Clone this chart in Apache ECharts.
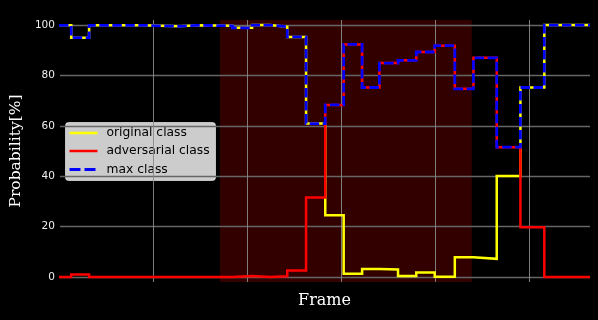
<!DOCTYPE html>
<html>
<head>
<meta charset="utf-8">
<script src="https://cdn.jsdelivr.net/npm/echarts@6/dist/echarts.min.js"></script>
<style>html,body{margin:0;padding:0;background:#000;}#c{width:598px;height:320px;}</style>
</head>
<body>
<div id="c"></div>
<script>
// step boundaries (frame units), value holds from edge[i] to edge[i+1]
var frameEdges = [0, 0.65, 1.6, 4.45, 6.4, 7.35, 9.23, 10.27, 11.22, 12.14, 13.14, 14.16, 15.14, 16.12, 17.04, 18.03, 19.0, 19.98, 21.05, 22.04, 23.28, 24.54, 25.81];
var frameEnd = 28.24;
var maxClass = [99.9, 95.0, 99.9, 99.5, 99.9, 99.7, 98.9, 100, 99.3, 95.3, 60.9, 68.3, 92.3, 75.2, 84.9, 86.0, 89.3, 91.8, 74.7, 87.0, 51.5, 75.2, 100];
var originalClass = [99.9, 95.0, 99.9, 99.5, 99.9, 99.7, 98.9, 100, 99.3, 95.3, 60.9, 24.5, 1.3, 3.2, 3.0, 0.4, 1.8, 0.1, 7.8, 7.2, 40.1, 75.2, 100];
var adversarialClass = [0, 1.0, 0, 0, 0, 0, 0.4, 0, 0.3, 2.6, 31.5, 68.3, 92.3, 75.2, 84.9, 86.0, 89.3, 91.8, 74.7, 87.0, 51.5, 19.7, 0];
var attackWindow = [8.56, 21.95];
var yTicks = [0, 20, 40, 60, 80, 100];
var legendNames = ['original class', 'adversarial class', 'max class'];

function steps(vals) {
  var d = frameEdges.map(function (x, i) { return [x, vals[i]]; });
  d.push([frameEnd, vals[vals.length - 1]]);
  return d;
}

var chart = echarts.init(document.getElementById('c'), null, {renderer: 'canvas'});
var lineBase = {type: 'line', step: 'end', showSymbol: false, symbol: 'none', animation: false, xAxisIndex: 0, yAxisIndex: 0};

chart.setOption({
  backgroundColor: '#000000',
  animation: false,
  grid: [
    {left: 59, width: 531, top: 20, height: 262},
    {left: 59, width: 531, top: 25.04, height: 251.92}
  ],
  xAxis: [
    {type: 'value', gridIndex: 0, min: 0, max: frameEnd, interval: 5, z: 1.5,
     axisLine: {show: false}, axisTick: {show: false}, axisLabel: {show: false},
     splitLine: {show: true, showMinLine: false, showMaxLine: false, lineStyle: {color: '#8a8a8a', width: 0.9}},
     name: 'Frame', nameLocation: 'middle', nameGap: 11,
     nameTextStyle: {color: '#ffffff', fontFamily: 'DejaVu Serif', fontSize: 16}},
    {type: 'value', gridIndex: 1, min: 0, max: frameEnd, show: false}
  ],
  yAxis: [
    {type: 'value', gridIndex: 0, min: -2, max: 102,
     axisLine: {show: false}, axisTick: {show: false}, axisLabel: {show: false}, splitLine: {show: false}},
    {type: 'value', gridIndex: 1, min: yTicks[0], max: yTicks[yTicks.length - 1], interval: 20, z: 1.5,
     axisLine: {show: false}, axisTick: {show: false},
     axisLabel: {color: '#eeeeee', fontFamily: 'DejaVu Sans', fontSize: 10.5, margin: 5},
     splitLine: {show: true, lineStyle: {color: '#666666', width: 1.3}},
     name: 'Probability[%]', nameLocation: 'middle', nameRotate: 90, nameGap: 23,
     nameTextStyle: {color: '#ffffff', fontFamily: 'DejaVu Serif', fontSize: 15.5}}
  ],
  series: [
    {type: 'line', xAxisIndex: 0, yAxisIndex: 0, z: 1, data: [], silent: true,
     markArea: {silent: true, z: 1, itemStyle: {color: '#330000'},
       data: [[{xAxis: attackWindow[0]}, {xAxis: attackWindow[1]}]]}},
    Object.assign({}, lineBase, {name: legendNames[0], data: steps(originalClass), z: 3,
      lineStyle: {color: '#ffff00', width: 2.5, join: 'miter'}}),
    Object.assign({}, lineBase, {name: legendNames[1], data: steps(adversarialClass), z: 4,
      lineStyle: {color: '#ff0000', width: 2.5, join: 'miter'}}),
    Object.assign({}, lineBase, {name: legendNames[2], data: steps(maxClass), z: 5,
      lineStyle: {color: '#0000ff', width: 2.8, type: [9.5, 3.5], join: 'miter'}})
  ],
  graphic: [
    {type: 'group', left: 65, top: 122, z: 100, children: [
      {type: 'rect', shape: {x: 0, y: 0, width: 150, height: 58, r: 3},
       style: {fill: 'rgba(255,255,255,0.8)', stroke: 'rgba(255,255,255,0.6)', lineWidth: 1}},
      {type: 'line', shape: {x1: 4, y1: 10.5, x2: 32, y2: 10.5}, style: {stroke: '#ffff00', lineWidth: 2.5}},
      {type: 'line', shape: {x1: 4, y1: 28.5, x2: 32, y2: 28.5}, style: {stroke: '#ff0000', lineWidth: 2.5}},
      {type: 'line', shape: {x1: 4, y1: 47, x2: 32, y2: 47}, style: {stroke: '#0000ff', lineWidth: 2.8, lineDash: [11, 4]}},
      {type: 'text', x: 41, y: 10.5, style: {text: legendNames[0], fill: '#000000', font: '12.3px "DejaVu Sans"', verticalAlign: 'middle'}},
      {type: 'text', x: 41, y: 28.5, style: {text: legendNames[1], fill: '#000000', font: '12.3px "DejaVu Sans"', verticalAlign: 'middle'}},
      {type: 'text', x: 41, y: 47, style: {text: legendNames[2], fill: '#000000', font: '12.3px "DejaVu Sans"', verticalAlign: 'middle'}}
    ]}
  ]
});
</script>
</body>
</html>
